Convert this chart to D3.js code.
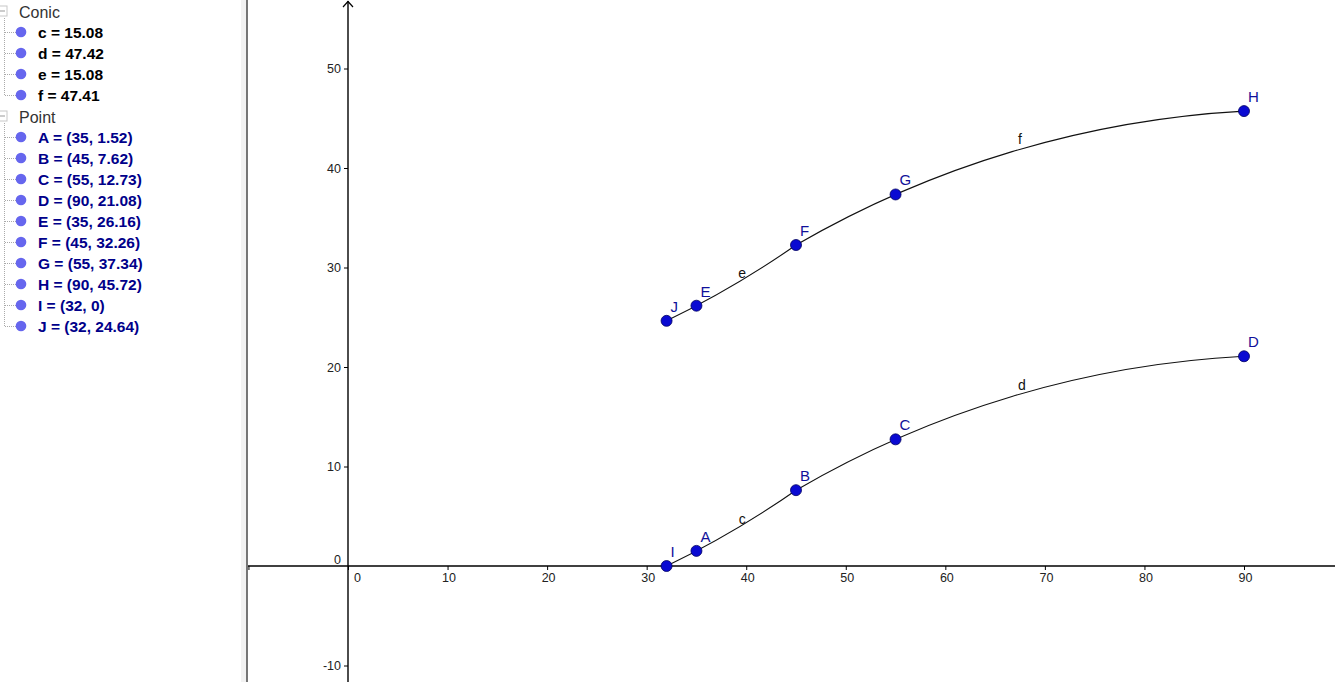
<html>
<script src="https://d3js.org/d3.v7.min.js"></script>
<style>
  body { margin: 0; background: #fff; }
  text { font-family: "Liberation Sans", Arial, sans-serif; }
</style>
<body>
<svg id="chart" width="1335" height="682"></svg>
<script>
// points on the two curves
const pointNames = ['A', 'B', 'C', 'D', 'E', 'F', 'G', 'H', 'I', 'J'];
const pointX = [35, 45, 55, 90, 35, 45, 55, 90, 32, 32];
const pointY = [1.52, 7.62, 12.73, 21.08, 26.16, 32.26, 37.34, 45.72, 0, 24.64];

// conic arcs through three points each
const conicNames = ['c', 'd', 'e', 'f'];
const conicValues = ['15.08', '47.42', '15.08', '47.41'];
const conicThrough = [['I', 'A', 'B'], ['B', 'C', 'D'], ['J', 'E', 'F'], ['F', 'G', 'H']];
const conicLabelX = [39.6, 67.7, 39.6, 67.5];
const conicLabelY = [4.7, 18.2, 29.4, 42.9];

const xTicks = [-10, 0, 10, 20, 30, 40, 50, 60, 70, 80, 90];
const xTickLabels = ['', '0', '10', '20', '30', '40', '50', '60', '70', '80', '90'];
const yTicks = [-10, 0, 10, 20, 30, 40, 50];
const yTickLabels = ['-10', '0', '10', '20', '30', '40', '50'];

const width = 1335, height = 682;
const panelW = 247;

const svg = d3.select('#chart');

var x = d3.scaleLinear().domain([0, 90]).range([348, 1244]);
var y = d3.scaleLinear().domain([0, 50]).range([566, 68.5]);

// ---- graphics view ----
const graph = svg.append('g');

// axis lines
graph.append('line')
  .attr('x1', panelW + 1).attr('x2', width)
  .attr('y1', y(0)).attr('y2', y(0))
  .attr('stroke', 'black').attr('stroke-width', 1.4);
graph.append('line')
  .attr('x1', x(0)).attr('x2', x(0))
  .attr('y1', height).attr('y2', 1)
  .attr('stroke', 'black').attr('stroke-width', 1.4);
graph.append('path')
  .attr('d', 'M' + (x(0) - 5) + ',7L' + x(0) + ',1.5L' + (x(0) + 5) + ',7')
  .attr('fill', 'none').attr('stroke', 'black').attr('stroke-width', 1.2);

var gx = graph.append('g')
  .attr('transform', 'translate(0,' + y(0) + ')')
  .call(d3.axisBottom(x).tickValues(xTicks).tickSize(4).tickPadding(3)
    .tickFormat((d, i) => xTickLabels[i]));
gx.select('.domain').remove();
gx.selectAll('text').attr('font-size', 12.5).attr('fill', '#222')
  .attr('font-family', '"Liberation Sans", Arial, sans-serif')
  .attr('dx', d => d == 0 ? 9 : 1);

var gy = graph.append('g')
  .attr('transform', 'translate(' + x(0) + ',0)')
  .call(d3.axisLeft(y).tickValues(yTicks).tickSize(4).tickPadding(3)
    .tickFormat((d, i) => yTickLabels[i]));
gy.select('.domain').remove();
gy.selectAll('text').attr('font-size', 12.5).attr('fill', '#222')
  .attr('font-family', '"Liberation Sans", Arial, sans-serif')
  .attr('dy', d => d == 0 ? '-0.2em' : '0.32em');
gy.selectAll('.tick').filter(d => d == 0).select('line').remove();

function pt(name) {
  var i = pointNames.indexOf(name);
  return [x(pointX[i]), y(pointY[i])];
}

// arcs: circle through three points, drawn in pixel space (equal scales)
conicThrough.forEach(function(names, k) {
  var a = pt(names[0]), b = pt(names[1]), c = pt(names[2]);
  var d = 2 * (a[0] * (b[1] - c[1]) + b[0] * (c[1] - a[1]) + c[0] * (a[1] - b[1]));
  var sa = a[0] * a[0] + a[1] * a[1], sb = b[0] * b[0] + b[1] * b[1], sc = c[0] * c[0] + c[1] * c[1];
  var ux = (sa * (b[1] - c[1]) + sb * (c[1] - a[1]) + sc * (a[1] - b[1])) / d;
  var uy = (sa * (c[0] - b[0]) + sb * (a[0] - c[0]) + sc * (b[0] - a[0])) / d;
  var r = Math.hypot(a[0] - ux, a[1] - uy);
  var cross = (b[0] - a[0]) * (c[1] - b[1]) - (b[1] - a[1]) * (c[0] - b[0]);
  var p = d3.path();
  p.arc(ux, uy, r, Math.atan2(a[1] - uy, a[0] - ux), Math.atan2(c[1] - uy, c[0] - ux), !(cross > 0));
  graph.append('path')
    .attr('d', p.toString())
    .attr('fill', 'none').attr('stroke', '#111').attr('stroke-width', 1.1);
  graph.append('text')
    .attr('x', x(conicLabelX[k])).attr('y', y(conicLabelY[k]))
    .attr('text-anchor', 'middle').attr('dominant-baseline', 'central')
    .attr('font-size', 14).attr('fill', '#111')
    .text(conicNames[k]);
});

// points
graph.selectAll('circle.pt')
  .data(pointNames)
  .enter()
  .append('circle')
    .attr('class', 'pt')
    .attr('cx', (d, i) => x(pointX[i]))
    .attr('cy', (d, i) => y(pointY[i]))
    .attr('r', 5.5)
    .attr('fill', '#0a0ad2')
    .attr('stroke', '#000060').attr('stroke-width', 0.8);
graph.selectAll('text.ptlabel')
  .data(pointNames)
  .enter()
  .append('text')
    .attr('class', 'ptlabel')
    .attr('x', (d, i) => x(pointX[i]) + 4)
    .attr('y', (d, i) => y(pointY[i]) - 9)
    .attr('font-size', 15).attr('fill', '#10109a')
    .text(d => d);

// ---- algebra view (left panel) ----
const panel = svg.append('g');
panel.append('rect').attr('x', 0).attr('y', 0).attr('width', panelW).attr('height', height).attr('fill', '#fff');
panel.append('rect').attr('x', panelW - 6).attr('y', 0).attr('width', 6).attr('height', height).attr('fill', '#f2f2f2');
panel.append('line').attr('x1', panelW).attr('x2', panelW).attr('y1', 0).attr('y2', height)
  .attr('stroke', '#555').attr('stroke-width', 1.6);

const rowH = 21, row0 = 12;
const rows = [];
rows.push({head: true, text: 'Conic'});
conicNames.forEach((n, i) => rows.push({text: n + ' = ' + conicValues[i], color: '#000'}));
rows.push({head: true, text: 'Point'});
pointNames.forEach((n, i) => rows.push({text: n + ' = (' + pointX[i] + ', ' + pointY[i] + ')', color: '#00008a'}));

// tree lines
var groupStart = -1;
rows.forEach(function(r, i) {
  var cy = row0 + i * rowH;
  if (r.head) {
    panel.append('rect').attr('x', -3).attr('y', cy - 6).attr('width', 10).attr('height', 10)
      .attr('fill', '#fff').attr('stroke', '#c8c8c8');
    panel.append('line').attr('x1', -1).attr('x2', 5).attr('y1', cy - 1).attr('y2', cy - 1)
      .attr('stroke', '#999');
    panel.append('text').attr('x', 19).attr('y', cy).attr('dominant-baseline', 'central')
      .attr('font-size', 16).attr('fill', '#333').text(r.text);
    groupStart = cy;
  } else {
    var last = (i == rows.length - 1) || rows[i + 1].head;
    if (last) {
      panel.append('line').attr('x1', 4.5).attr('x2', 4.5).attr('y1', groupStart + 6).attr('y2', cy - 1)
        .attr('stroke', '#aaa').attr('stroke-dasharray', '1,1');
    }
    panel.append('line').attr('x1', 5).attr('x2', 16).attr('y1', cy - 0.5).attr('y2', cy - 0.5)
      .attr('stroke', '#aaa').attr('stroke-dasharray', '1,1');
    panel.append('circle').attr('cx', 21).attr('cy', cy - 1).attr('r', 5.3)
      .attr('fill', '#6666ee');
    panel.append('text').attr('x', 38).attr('y', cy - 1).attr('dominant-baseline', 'central')
      .attr('font-size', 15.5).attr('font-weight', 'bold').attr('fill', r.color).text(r.text);
  }
});
</script>
</body>
</html>
